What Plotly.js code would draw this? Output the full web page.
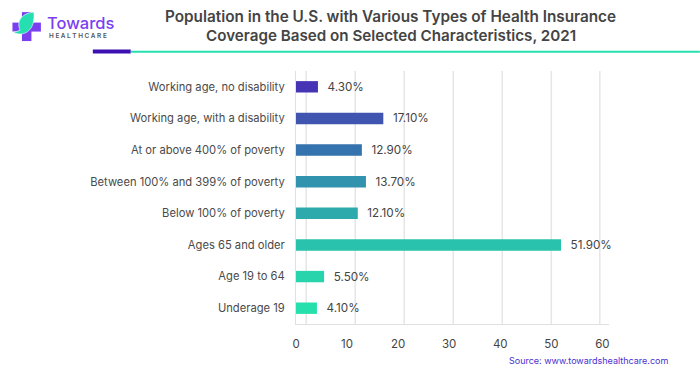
<!DOCTYPE html>
<html><head><meta charset="utf-8">
<script src="https://cdn.plot.ly/plotly-3.0.1.min.js"></script>
<style>html,body{margin:0;padding:0;background:#fff}#c{width:700px;height:375px}</style>
</head><body><div id="c"></div>
<script>
const categories=["Underage 19","Age 19 to 64","Ages 65 and older","Below 100% of poverty","Between 100% and 399% of poverty","At or above 400% of poverty","Working age, with a disability","Working age, no disability"];
const values=[4.1,5.5,51.9,12.1,13.7,12.9,17.1,4.3];
const valueLabels=["4.10%","5.50%","51.90%","12.10%","13.70%","12.90%","17.10%","4.30%"];
const barColors=["#25e0ac","#27d4ac","#29c2ac","#2eaaac","#3193ae","#3473ad","#3f55b0","#4535b4"];
const xTicks=[0,10,20,30,40,50,60];
const gridValues=[2,11.6,21.2,30.8,40.4,50,59.5];
const titleLines=["Population in the U.S. with Various Types of Health Insurance","Coverage Based on Selected Characteristics, 2021"];
const W=700,H=375;
const L=295.5,R=91,T=71,B=50.5;
const px=x=>(x-L)/(W-L-R), py=y=>1-(y-T)/(H-T-B);
const font="Inter, 'Open Sans', sans-serif";
const gridShapes=gridValues.map(v=>({type:'line',layer:'below',xref:'x',yref:'paper',x0:v,x1:v,y0:0,y1:1,line:{color:'#e6e6e6',width:1.5}}));
function rect(x0,y0,x1,y1,c){return {type:'rect',xref:'paper',yref:'paper',x0:px(x0),x1:px(x1),y0:py(y0),y1:py(y1),fillcolor:c,line:{width:0}};}
const deco=[
 rect(92,49.5,130,53.5,'#3d10b4'),
 rect(130,50.8,700,52.6,'#25dfb0'),
 rect(21,12,30.5,41,'#7b3ff2'),
 rect(11.5,22.5,40,31.5,'#7b3ff2'),
 {type:'path',xref:'paper',yref:'paper',path:`M ${px(12.5)} ${py(32)} C ${px(17)} ${py(36)} ${px(35)} ${py(36)} ${px(33)} ${py(12)} C ${px(22)} ${py(13)} ${px(15)} ${py(20)} ${px(19)} ${py(30)} Q ${px(16)} ${py(32)} ${px(12.5)} ${py(32)} Z`,fillcolor:'#25dfb0',line:{color:'#ffffff',width:0.6}}
];
const note=(text,x,y,xanchor,f)=>({text,xref:'paper',yref:'paper',x:px(x),y:py(y),xanchor,yanchor:'middle',showarrow:false,font:Object.assign({family:font},f)});
const ann=[
 note('Towards',44.5,22.5,'left',{size:16.5,color:'#7b3ff2',weight:500}),
 note('H E A L T H C A R E',46,36,'left',{size:6.4,color:'#555555',weight:600}),
 note(titleLines[0],390,16,'center',{size:15.3,color:'#444444',weight:600}),
 note(titleLines[1],391,35.5,'center',{size:15.2,color:'#444444',weight:600}),
 note('Source: www.towardshealthcare.com',670.5,361.5,'right',{size:9,color:'#4a2fd0'})
];
Plotly.newPlot('c',[{type:'bar',orientation:'h',y:categories,x:values,width:0.36,marker:{color:barColors},text:valueLabels.map(s=>'\u00a0\u00a0'+s),textposition:'outside',constraintext:'none',cliponaxis:false,textfont:{family:font,size:11.7,color:'#444444'},hoverinfo:'skip'}],{
 width:W,height:H,paper_bgcolor:'#fff',plot_bgcolor:'#fff',showlegend:false,
 margin:{l:L,r:R,t:T,b:B,pad:0},
 xaxis:{range:[0,61.3],tickvals:xTicks,ticktext:xTicks.map(String),showgrid:false,zeroline:false,showline:true,linecolor:'#e0e0e0',linewidth:1,ticks:'',tickfont:{family:font,size:11.5,color:'#444444'},ticklabelstandoff:9},
 yaxis:{type:'category',categoryorder:'array',categoryarray:categories,showgrid:false,zeroline:false,showline:true,linecolor:'#e0e0e0',linewidth:1,ticks:'',ticklabelstandoff:8,tickfont:{family:font,size:11.2,color:'#4a4a4a'}},
 shapes:gridShapes.concat(deco),annotations:ann
},{displayModeBar:false,staticPlot:true});
</script></body></html>
